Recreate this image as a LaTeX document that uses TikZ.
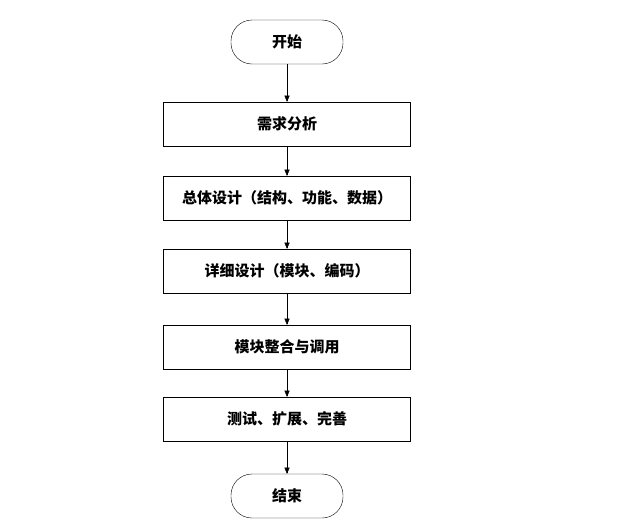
\documentclass[tikz,border=0pt]{standalone}
\usepackage{fontspec}
\newfontfamily\cjk{Noto Sans CJK SC}
\usetikzlibrary{arrows}

\begin{document}
\begin{tikzpicture}[x=1pt,y=-1pt,>=triangle 45,
	every node/.style={font=\cjk\bfseries\fontsize{15}{18}\selectfont},
	term/.style={draw,thin,rounded corners=21pt,minimum width=112pt,minimum height=44pt},
	proc/.style={draw,thin,minimum width=247pt,minimum height=44pt}]
	\useasboundingbox (0,0) rectangle (617,525);
	% The flow steps
	\node[term] (start) at (287,42) {开始};
	\node[proc] (req) at (287,124) {需求分析};
	\node[proc] (total) at (287,198) {总体设计（结构、功能、数据）};
	\node[proc] (detail) at (287,271) {详细设计（模块、编码）};
	\node[proc] (merge) at (287,347) {模块整合与调用};
	\node[proc] (test) at (287,419) {测试、扩展、完善};
	\node[term] (stop) at (287,496) {结束};
	
	% The arrows
	\draw[->] (start) -- (req);
	\draw[->] (req) -- (total);
	\draw[->] (total) -- (detail);
	\draw[->] (detail) -- (merge);
	\draw[->] (merge) -- (test);
	\draw[->] (test) -- (stop);
\end{tikzpicture}
\end{document}
